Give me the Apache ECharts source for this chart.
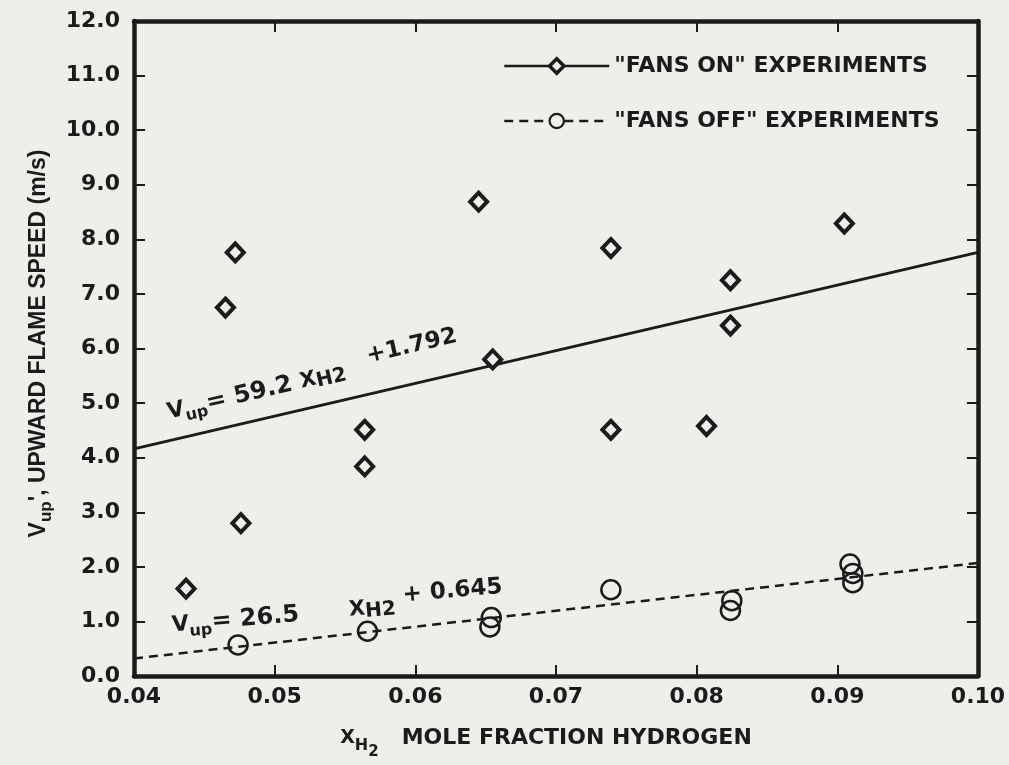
<!DOCTYPE html>
<html>
<head>
<meta charset="utf-8">
<script src="https://cdn.jsdelivr.net/npm/echarts@6.0.0/dist/echarts.min.js"></script>
<style>
html,body{margin:0;padding:0;background:#eeeeeb;}
#c{width:1009px;height:765px;}
</style>
</head>
<body>
<div id="c"></div>
<script>
// ---- data ----
const fansOnX = [0.0437, 0.0465, 0.0472, 0.0476, 0.0564, 0.0564, 0.0645, 0.0655, 0.0739, 0.0739, 0.0807, 0.0824, 0.0824, 0.0905];
const fansOnY = [1.60, 6.75, 7.76, 2.80, 4.51, 3.84, 8.69, 5.80, 7.84, 4.51, 4.58, 7.25, 6.42, 8.29];
const fansOffX = [0.0474, 0.0566, 0.0654, 0.0653, 0.0739, 0.0825, 0.0824, 0.0909, 0.0911, 0.0911];
const fansOffY = [0.57, 0.82, 1.07, 0.90, 1.58, 1.38, 1.20, 2.05, 1.88, 1.71];
const fansOnFitX = [0.04, 0.10];
const fansOnFitY = [4.16, 7.76];
const fansOffFitX = [0.04, 0.10];
const fansOffFitY = [0.32, 2.07];
const xTickLabels = ['0.04', '0.05', '0.06', '0.07', '0.08', '0.09', '0.10'];
const yTickLabels = ['0.0', '1.0', '2.0', '3.0', '4.0', '5.0', '6.0', '7.0', '8.0', '9.0', '10.0', '11.0', '12.0'];
const seriesNames = ['"FANS ON" EXPERIMENTS', '"FANS OFF" EXPERIMENTS'];

const INK = '#1b1b1b';
const BG = '#eeeeeb';
const FONT = 'DejaVu Sans';

function pairs(xs, ys) { return xs.map((x, i) => [x, ys[i]]); }

const chart = echarts.init(document.getElementById('c'), null, {renderer: 'canvas'});

const axisLine = {show: true, onZero: false, lineStyle: {color: INK, width: 4.5}};
const axisTick = {show: true, inside: true, length: 11, lineStyle: {color: INK, width: 2}};

const option = {
  backgroundColor: BG,
  animation: false,
  grid: {left: 134, right: 31, top: 21, bottom: 84, containLabel: false},
  legend: {
    orient: 'vertical',
    left: 498,
    top: 50,
    itemWidth: 105,
    itemHeight: 18,
    itemGap: 33,
    selectedMode: false,
    textStyle: {color: INK, fontFamily: FONT, fontWeight: 'bold', fontSize: 22, lineHeight: 22},
    data: [
      {name: seriesNames[0],
       itemStyle: {color: BG, borderColor: INK, borderWidth: 3.5, opacity: 1},
       lineStyle: {color: INK, width: 2.5, type: 'solid'}},
      {name: seriesNames[1],
       itemStyle: {color: BG, borderColor: INK, borderWidth: 2.2, opacity: 1},
       lineStyle: {color: INK, width: 2.5, type: [9, 6]}}
    ]
  },
  xAxis: [
    {
      type: 'value', position: 'bottom', min: 0.04, max: 0.10, interval: 0.01,
      axisLine: axisLine, axisTick: axisTick, splitLine: {show: false},
      axisLabel: {
        color: INK, fontFamily: FONT, fontWeight: 'bold', fontSize: 22, margin: 10,
        formatter: v => xTickLabels[Math.round((v - 0.04) / 0.01)]
      },
      name: '{x|X}{h|H}{two|2}{t|   MOLE FRACTION HYDROGEN}',
      nameLocation: 'middle',
      nameGap: 41,
      nameTextStyle: {
        color: INK, fontFamily: FONT, fontWeight: 'bold', padding: [0, 20, 0, 0],
        rich: {
          x: {fontSize: 19, fontFamily: FONT, fontWeight: 'bold', color: INK},
          h: {fontSize: 16, fontFamily: FONT, fontWeight: 'bold', color: INK, padding: [14, 0, 0, 0]},
          two: {fontSize: 15, fontFamily: FONT, fontWeight: 'bold', color: INK, padding: [28, 0, 0, 0]},
          t: {fontSize: 22, fontFamily: FONT, fontWeight: 'bold', color: INK}
        }
      }
    },
    {
      type: 'value', position: 'top', min: 0.04, max: 0.10, interval: 0.01,
      axisLine: axisLine, axisTick: axisTick, axisLabel: {show: false}, splitLine: {show: false}
    }
  ],
  yAxis: [
    {
      type: 'value', position: 'left', min: 0, max: 12, interval: 1,
      axisLine: axisLine, axisTick: axisTick, splitLine: {show: false},
      axisLabel: {
        color: INK, fontFamily: FONT, fontWeight: 'bold', fontSize: 22, margin: 14,
        formatter: v => yTickLabels[Math.round(v)]
      },
      name: "{v|V}{s|up}{t|', UPWARD FLAME SPEED (m/s)}",
      nameLocation: 'middle',
      nameRotate: 90,
      nameGap: 76,
      nameTextStyle: {
        color: INK, padding: [0, 0, 0, 10],
        rich: {
          v: {fontSize: 23, fontFamily: 'Liberation Sans', fontWeight: 'bold', color: INK},
          s: {fontSize: 17, fontFamily: 'Liberation Sans', fontWeight: 'bold', color: INK, padding: [15, 0, 0, 0]},
          t: {fontSize: 23, fontFamily: 'Liberation Sans', fontWeight: 'bold', color: INK}
        }
      }
    },
    {
      type: 'value', position: 'right', min: 0, max: 12, interval: 1,
      axisLine: axisLine, axisTick: axisTick, axisLabel: {show: false}, splitLine: {show: false}
    }
  ],
  series: [
    {
      name: seriesNames[0], type: 'line', xAxisIndex: 0, yAxisIndex: 0,
      data: pairs(fansOnFitX, fansOnFitY),
      symbol: 'diamond', showSymbol: false, silent: true, z: 2,
      lineStyle: {color: INK, width: 2.8, type: 'solid'},
      itemStyle: {color: BG, borderColor: INK, borderWidth: 3.5}
    },
    {
      name: seriesNames[0], type: 'scatter', xAxisIndex: 0, yAxisIndex: 0,
      data: pairs(fansOnX, fansOnY),
      symbol: 'diamond', symbolSize: [17, 18], z: 3,
      itemStyle: {color: BG, borderColor: INK, borderWidth: 4, opacity: 1}
    },
    {
      name: seriesNames[1], type: 'line', xAxisIndex: 0, yAxisIndex: 0,
      data: pairs(fansOffFitX, fansOffFitY),
      symbol: 'circle', showSymbol: false, silent: true, z: 2,
      lineStyle: {color: INK, width: 2.5, type: [9, 6]},
      itemStyle: {color: BG, borderColor: INK, borderWidth: 2.2}
    },
    {
      name: seriesNames[1], type: 'scatter', xAxisIndex: 0, yAxisIndex: 0,
      data: pairs(fansOffX, fansOffY),
      symbol: 'circle', symbolSize: 19, z: 3,
      itemStyle: {color: 'rgba(238,238,235,0)', borderColor: INK, borderWidth: 2.5, opacity: 1}
    }
  ]
};

chart.setOption(option);

// Equation annotations anchored in data coordinates
const eqRich = {
  v: {fontSize: 22, fontFamily: FONT, fontWeight: 'bold', fill: INK},
  s: {fontSize: 16, fontFamily: FONT, fontWeight: 'bold', fill: INK, padding: [15, 0, 0, 0]},
  t: {fontSize: 24, fontFamily: FONT, fontWeight: 'bold', fill: INK},
  x: {fontSize: 21, fontFamily: FONT, fontWeight: 'bold', fill: INK},
  h: {fontSize: 20, fontFamily: FONT, fontWeight: 'bold', fill: INK, padding: [6, 0, 0, 0]},
  p: {fontSize: 23, fontFamily: FONT, fontWeight: 'bold', fill: INK, padding: [0, 0, 20, 0]}
};
const a1 = chart.convertToPixel({seriesIndex: 1}, [0.0424, 4.82]);
const a2 = chart.convertToPixel({seriesIndex: 1}, [0.0427, 0.92]);
chart.setOption({
  graphic: [
    {
      type: 'text', x: a1[0], y: a1[1], rotation: 13 * Math.PI / 180, z: 10,
      style: {
        text: '{v|V}{s|up}{t|= 59.2 }{x|X}{h|H2}{p|   +1.792}',
        rich: eqRich, verticalAlign: 'middle', align: 'left'
      }
    },
    {
      type: 'text', x: a2[0], y: a2[1], rotation: 5 * Math.PI / 180, z: 10,
      style: {
        text: '{v|V}{s|up}{t|= 26.5      }{x|X}{h|H2}{p| + 0.645}',
        rich: eqRich, verticalAlign: 'middle', align: 'left'
      }
    }
  ]
});
</script>
</body>
</html>
